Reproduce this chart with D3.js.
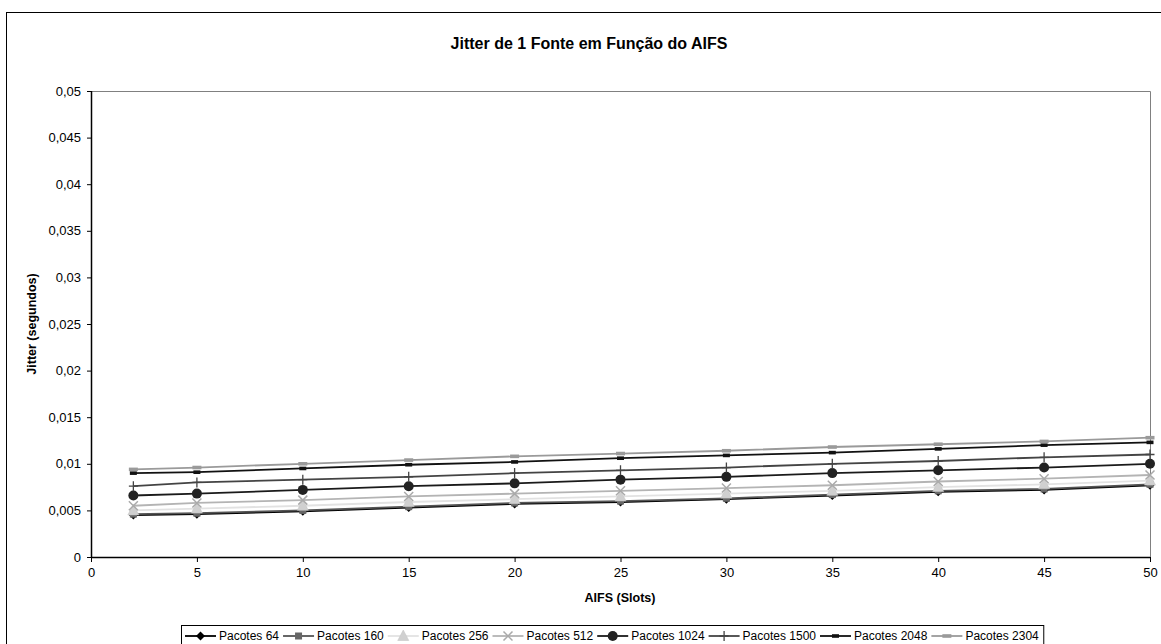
<!DOCTYPE html>
<html><head><meta charset="utf-8">
<script src="https://cdn.jsdelivr.net/npm/d3@7"></script>
<style>body{margin:0;background:#fff}svg{display:block;font-family:"Liberation Sans",Arial,sans-serif}</style>
</head><body><svg id="c" width="1161" height="644"></svg>
<script>
const aifs = [2, 5, 10, 15, 20, 25, 30, 35, 40, 45, 50];
const p64   = [0.0045,0.0046,0.0049,0.0053,0.0057,0.0059,0.0062,0.0066,0.0070,0.0072,0.0077];
const p160  = [0.0046,0.0047,0.0050,0.0054,0.0058,0.0060,0.0063,0.0067,0.0071,0.0073,0.0078];
const p256  = [0.0050,0.0052,0.0055,0.0059,0.0062,0.0065,0.0068,0.0071,0.0075,0.0078,0.0082];
const p512  = [0.0055,0.0058,0.0061,0.0065,0.0068,0.0071,0.0074,0.0077,0.0081,0.0084,0.0088];
const p1024 = [0.0066,0.0068,0.0072,0.0076,0.0079,0.0083,0.0086,0.0090,0.0093,0.0096,0.0100];
const p1500 = [0.0076,0.0080,0.0083,0.0086,0.0090,0.0093,0.0096,0.0100,0.0103,0.0107,0.0110];
const p2048 = [0.0090,0.0091,0.0095,0.0099,0.0102,0.0106,0.0109,0.0112,0.0116,0.0120,0.0123];
const p2304 = [0.0094,0.0096,0.0100,0.0104,0.0108,0.0111,0.0114,0.0118,0.0121,0.0124,0.0128];
const seriesNames = ["Pacotes 64","Pacotes 160","Pacotes 256","Pacotes 512","Pacotes 1024","Pacotes 1500","Pacotes 2048","Pacotes 2304"];
const xTicks = [0,5,10,15,20,25,30,35,40,45,50];
const yTicks = [0,0.005,0.01,0.015,0.02,0.025,0.03,0.035,0.04,0.045,0.05];
const title = "Jitter de 1 Fonte em Função do AIFS";
const xTitle = "AIFS (Slots)";
const yTitle = "Jitter (segundos)";

const styles = [
  {line:"#000000", marker:"diamond", fill:"#000000", stroke:"#000000"},
  {line:"#555555", marker:"square", fill:"#666666", stroke:"#666666"},
  {line:"#e2e2e2", marker:"triangle", fill:"#d0d0d0", stroke:"#c8c8c8"},
  {line:"#b4b4b4", marker:"x", fill:"none", stroke:"#aaaaaa"},
  {line:"#1a1a1a", marker:"circle", fill:"#222222", stroke:"#222222"},
  {line:"#444444", marker:"plus", fill:"none", stroke:"#444444"},
  {line:"#111111", marker:"dash", fill:"#111111", stroke:"#111111"},
  {line:"#9a9a9a", marker:"dash2", fill:"#9a9a9a", stroke:"#9a9a9a"}
];
const data = [p64,p160,p256,p512,p1024,p1500,p2048,p2304];

const svg = d3.select("#c");
const L = 91, R = 1150, T = 91, B = 557;
const x = d3.scaleLinear().domain([0,50]).range([L,R]);
const y = d3.scaleLinear().domain([0,0.05]).range([B,T]);
const loc = d3.formatLocale({decimal:",", thousands:".", grouping:[3], currency:["",""]});
const fmt = loc.format("~g");

// outer frame
svg.append("rect").attr("x",6.5).attr("y",12.5).attr("width",1170).attr("height",650)
  .attr("fill","none").attr("stroke","#000").attr("stroke-width",1);

// title
svg.append("text").attr("x",589).attr("y",49).attr("text-anchor","middle")
  .attr("font-weight","bold").attr("font-size","16px").text(title);

// plot border top/right
svg.append("path").attr("d",`M${L},${T+0.5}H${R+0.5}V${B}`).attr("fill","none").attr("stroke","#808080").attr("stroke-width",1);

// axes
const xAxis = d3.axisBottom(x).tickValues(xTicks).tickSize(5).tickPadding(6).tickFormat(d=>d);
const gx = svg.append("g").attr("transform",`translate(0,${B})`).call(xAxis);
const yAxis = d3.axisLeft(y).tickValues(yTicks).tickSize(4).tickPadding(6).tickFormat(fmt);
const gy = svg.append("g").attr("transform",`translate(${L},0)`).call(yAxis);
[gx,gy].forEach(g=>{
  g.select(".domain").attr("stroke","#000").attr("stroke-width",1.5);
  g.selectAll(".tick line").attr("stroke","#000");
  g.selectAll("text").attr("font-family","Liberation Sans, Arial, sans-serif").attr("font-size","13px").attr("fill","#000");
});
gy.select(".domain").attr("d",`M0.5,${T}V${B}`);
gx.select(".domain").attr("d",`M${L},0.5H${R}`);

svg.append("text").attr("x",620).attr("y",602).attr("text-anchor","middle")
  .attr("font-weight","bold").attr("font-size","12.5px").text(xTitle);
svg.append("text").attr("transform",`translate(36,${(T+B)/2}) rotate(-90)`).attr("text-anchor","middle")
  .attr("font-weight","bold").attr("font-size","12.5px").text(yTitle);

function drawMarker(g, type, cx, cy, st) {
  switch(type){
    case "diamond": g.append("path").attr("d",`M${cx},${cy-4.5}L${cx+4.5},${cy}L${cx},${cy+4.5}L${cx-4.5},${cy}Z`).attr("fill",st.fill); break;
    case "square": g.append("rect").attr("x",cx-3.5).attr("y",cy-3.5).attr("width",7).attr("height",7).attr("fill",st.fill); break;
    case "triangle": g.append("path").attr("d",`M${cx},${cy-6}L${cx+5.5},${cy+4.5}L${cx-5.5},${cy+4.5}Z`).attr("fill",st.fill).attr("stroke",st.stroke).attr("stroke-width",0.6); break;
    case "x": g.append("path").attr("d",`M${cx-4.5},${cy-4.5}L${cx+4.5},${cy+4.5}M${cx+4.5},${cy-4.5}L${cx-4.5},${cy+4.5}`).attr("stroke",st.stroke).attr("stroke-width",1.5); break;
    case "circle": g.append("circle").attr("cx",cx).attr("cy",cy).attr("r",5).attr("fill",st.fill); break;
    case "plus": g.append("path").attr("d",`M${cx-4.5},${cy}H${cx+4.5}M${cx},${cy-5}V${cy+5}`).attr("stroke",st.stroke).attr("stroke-width",1.3); break;
    case "dash": g.append("rect").attr("x",cx-3.5).attr("y",cy-1.8).attr("width",7).attr("height",3.6).attr("fill",st.fill); break;
    case "dash2": g.append("rect").attr("x",cx-4.5).attr("y",cy-1.8).attr("width",9).attr("height",3.6).attr("fill",st.fill); break;
  }
}

const line = d3.line().x((d,i)=>x(aifs[i])).y(d=>y(d));
data.forEach((vals, si)=>{
  const st = styles[si];
  const g = svg.append("g");
  g.append("path").datum(vals).attr("d",line).attr("fill","none").attr("stroke",st.line).attr("stroke-width",1.8);
  vals.forEach((v,i)=>drawMarker(g, st.marker, x(aifs[i]), y(v), st));
});

// legend
const lg = svg.append("g");
const lgBox = lg.append("rect").attr("x",181.5).attr("y",625.5).attr("height",40).attr("fill","#fff").attr("stroke","#000");
let cx = 185;
const ly = 636;
seriesNames.forEach((name, si)=>{
  const st = styles[si];
  const seg = 31;
  lg.append("line").attr("x1",cx).attr("x2",cx+seg).attr("y1",ly).attr("y2",ly).attr("stroke",st.line).attr("stroke-width",1.8);
  drawMarker(lg, st.marker, cx+seg/2, ly, st);
  const t = lg.append("text").attr("x",cx+seg+3).attr("y",ly+4.3).attr("font-size","12px").text(name);
  const w = t.node().getComputedTextLength();
  cx = cx + seg + 3 + w + 4;
});
lgBox.attr("width", cx - 181.5 + 1);
</script></body></html>
